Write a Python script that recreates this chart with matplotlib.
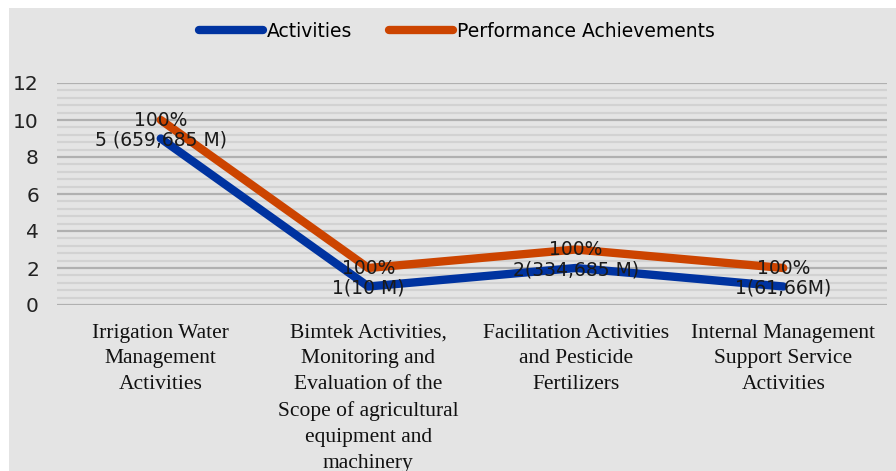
import matplotlib.pyplot as plt
from matplotlib.ticker import MultipleLocator

# chart data
categories = [
    "Irrigation Water\nManagement\nActivities",
    "Bimtek Activities,\nMonitoring and\nEvaluation of the\nScope of agricultural\nequipment and\nmachinery",
    "Facilitation Activities\nand Pesticide\nFertilizers",
    "Internal Management\nSupport Service\nActivities",
]
activities = [9, 1, 2, 1]
achievements = [10, 2, 3, 2]
activity_labels = ["5 (659,685 M)", "1(10 M)", "2(334,685 M)", "1(61,66M)"]
achievement_labels = ["100%", "100%", "100%", "100%"]

BLUE = "#0033a0"
ORANGE = "#cc4400"
BG = "#e4e4e4"

fig = plt.figure(figsize=(8.96, 4.71), dpi=100)
fig.patch.set_facecolor("white")

# gray chart area, with a thin white margin top and left
bg = fig.add_axes([9 / 896, 0, 1 - 9 / 896, 1 - 8 / 471], zorder=-1)
bg.set_facecolor(BG)
bg.set_xticks([])
bg.set_yticks([])
for s in bg.spines.values():
    s.set_visible(False)

ax = fig.add_axes([57 / 896, 166 / 471, 830 / 896, 222 / 471])
ax.set_facecolor("none")

x = list(range(len(categories)))
ax.plot(x, activities, color=BLUE, lw=6, solid_capstyle="round",
        solid_joinstyle="round", label="Activities", zorder=3)
ax.plot(x, achievements, color=ORANGE, lw=6, solid_capstyle="round",
        solid_joinstyle="round", label="Performance Achievements", zorder=3)

for i in x:
    ax.text(i, achievements[i], achievement_labels[i], ha="center", va="center",
            fontsize=13.5, color="#1a1a1a", zorder=4)
    ax.text(i, activities[i] - 0.1, activity_labels[i], ha="center", va="center",
            fontsize=13.5, color="#1a1a1a", zorder=4)

ax.set_xlim(-0.5, len(categories) - 0.5)
ax.set_ylim(0, 12)
ax.yaxis.set_major_locator(MultipleLocator(2))
ax.yaxis.set_minor_locator(MultipleLocator(0.4))
ax.grid(which="major", axis="y", color="#b0b0b0", lw=1.6)
ax.grid(which="minor", axis="y", color="#d2d2d2", lw=1.6)
ax.set_axisbelow(True)
for s in ax.spines.values():
    s.set_visible(False)
ax.tick_params(axis="both", which="both", length=0)
ax.tick_params(axis="y", labelsize=14.5, pad=13, labelcolor="#222222")

ax.set_xticks(x)
ax.set_xticklabels(categories, family="Liberation Serif", fontsize=15.5,
                   linespacing=1.48, color="#111111")
ax.tick_params(axis="x", pad=13.5)

fig.legend(loc="upper center", bbox_to_anchor=(0.51, 0.99), ncol=2, frameon=False,
           fontsize=13.5, handlelength=3.4, handletextpad=0.2, columnspacing=2.0)

fig.savefig("out.png", dpi=100, facecolor=fig.get_facecolor())
